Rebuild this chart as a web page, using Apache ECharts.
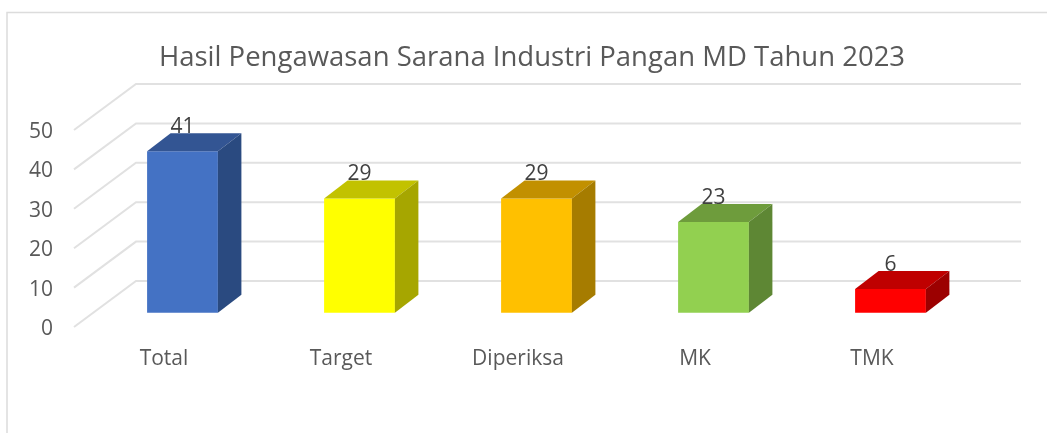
<!DOCTYPE html>
<html>
<head>
<meta charset="utf-8">
<style>html,body{margin:0;padding:0;background:#fff}#main{width:1047px;height:433px}</style>
<script src="https://cdn.jsdelivr.net/npm/echarts@6/dist/echarts.min.js"></script>
</head>
<body>
<div id="main"></div>
<script>
/* Hasil Pengawasan Sarana Industri Pangan MD 2023 - fake 3D columns */
const categories = ['Total', 'Target', 'Diperiksa', 'MK', 'TMK'];
const values = [41, 29, 29, 23, 6];
const valueTicks = [0, 10, 20, 30, 40, 50];

// front, top, side shade per column
const shades = [
  ['#4472c4', '#335593', '#2a4a80'],
  ['#ffff00', '#c2c200', '#a6a600'],
  ['#ffc000', '#c29000', '#a67c00'],
  ['#92d050', '#6e9c3c', '#5e8734'],
  ['#ff0000', '#bf0000', '#9c0000']
];

// axes sit on the front edge of the floor, columns and wall are pushed back from it
const WALL = [62, -46];
const BAR = [20, -14.3];
const DEPTH = [23.5, -18];

const chart = echarts.init(document.getElementById('main'));

function renderWall(params, api) {
  const p = api.coord([0, api.value(1)]);
  const x0 = params.coordSys.x;
  const x1 = x0 + params.coordSys.width;
  const style = { stroke: '#e1e1e1', lineWidth: 2, fill: 'none' };
  return {
    type: 'polyline',
    shape: { points: [[x0, p[1]], [x0 + WALL[0], p[1] + WALL[1]], [x1 + WALL[0], p[1] + WALL[1]]] },
    style
  };
}

function renderBar(params, api) {
  const i = params.dataIndex;
  const top = api.coord([i, api.value(1)]);
  const base = api.coord([i, 0]);
  const w = api.size([1, 0])[0] * 0.4;
  const l = top[0] + BAR[0] - w / 2;
  const r = l + w;
  const t = top[1] + BAR[1];
  const b = base[1] + BAR[1];
  const dx = DEPTH[0], dy = DEPTH[1];
  const c = shades[i];
  return {
    type: 'group',
    children: [
      { type: 'polygon', shape: { points: [[l, t], [r, t], [r, b], [l, b]] }, style: { fill: c[0] } },
      { type: 'polygon', shape: { points: [[l, t], [l + dx, t + dy], [r + dx, t + dy], [r, t]] }, style: { fill: c[1] } },
      { type: 'polygon', shape: { points: [[r, t], [r + dx, t + dy], [r + dx, b + dy], [r, b]] }, style: { fill: c[2] } },
      {
        type: 'text',
        style: {
          x: (l + r) / 2, y: t + dy - 6,
          text: String(api.value(1)),
          fill: '#404040', fontSize: 21, fontFamily: 'Open Sans',
          align: 'center', verticalAlign: 'middle'
        }
      }
    ]
  };
}

chart.setOption({
  animation: false,
  backgroundColor: '#fff',
  title: {
    text: 'Hasil Pengawasan Sarana Industri Pangan MD Tahun 2023',
    left: 527, top: 39, textAlign: 'center',
    textStyle: { color: '#595959', fontSize: 27.5, fontWeight: 'normal', fontFamily: 'Open Sans' }
  },
  grid: { left: 74, width: 885, top: 130, height: 197 },
  xAxis: {
    type: 'category', data: categories,
    axisLine: { show: false }, axisTick: { show: false },
    axisLabel: { color: '#595959', fontSize: 21, fontFamily: 'Open Sans', margin: 22, padding: [0, 0, 0, 3] }
  },
  yAxis: {
    type: 'value', min: 0, max: 50, interval: 10,
    axisLine: { show: false }, axisTick: { show: false }, splitLine: { show: false },
    axisLabel: {
      margin: 21,
      formatter: v => `{tick|${v}}`,
      rich: { tick: { color: '#595959', fontSize: 21, fontFamily: 'Open Sans', padding: [4, 0, 0, 0] } }
    }
  },
  graphic: [{
    type: 'polyline', silent: true,
    shape: { points: [[7, 433], [7, 12.5], [1047, 12.5]] },
    style: { stroke: '#dcdcdc', lineWidth: 1.5, fill: 'none' }
  }],
  series: [
    {
      type: 'custom', clip: false, silent: true, z: 1,
      renderItem: renderWall,
      encode: { x: 0, y: 1 },
      data: valueTicks.map(v => [0, v])
    },
    {
      type: 'custom', clip: false, silent: true, z: 2,
      renderItem: renderBar,
      encode: { x: 0, y: 1 },
      data: values.map((v, i) => [i, v])
    }
  ]
});
</script>
</body>
</html>
